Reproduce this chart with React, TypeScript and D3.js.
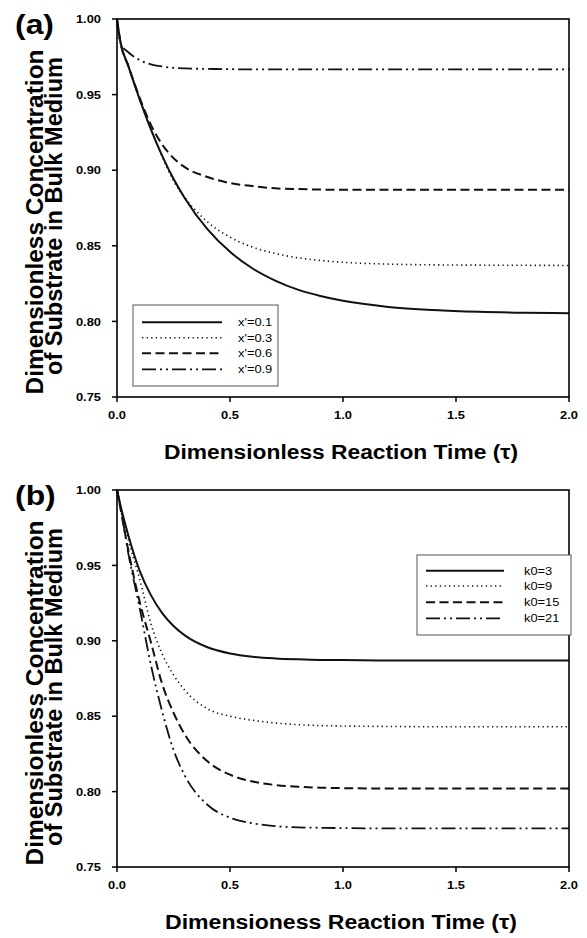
import React from "react";
import * as d3 from "d3";

const tau = [0, 0.015, 0.05, 0.1, 0.15, 0.2, 0.25, 0.3, 0.4, 0.5, 0.6, 0.7, 0.8, 0.9, 1.0, 1.2, 1.4, 1.6, 1.8, 2.0];

// panel (a): x' series
const aX01 = [1.0, 0.985, 0.969, 0.947, 0.927, 0.9095, 0.8943, 0.8815, 0.861, 0.846, 0.835, 0.827, 0.821, 0.8168, 0.8136, 0.8096, 0.8075, 0.8063, 0.8057, 0.8054];
const aX03 = [1.0, 0.985, 0.969, 0.947, 0.927, 0.909, 0.893, 0.882, 0.8659, 0.8557, 0.8491, 0.8449, 0.8421, 0.8403, 0.8391, 0.8379, 0.8374, 0.8372, 0.8371, 0.837];
const aX06 = [1.0, 0.985, 0.969, 0.948, 0.93, 0.917, 0.908, 0.902, 0.8955, 0.8915, 0.8895, 0.888, 0.8875, 0.8872, 0.887, 0.887, 0.887, 0.887, 0.887, 0.887];
const aX09 = [1.0, 0.984, 0.978, 0.9729, 0.97, 0.9686, 0.9677, 0.9673, 0.967, 0.9668, 0.9667, 0.9667, 0.9667, 0.9667, 0.9667, 0.9667, 0.9667, 0.9667, 0.9667, 0.9667];
const aLabels = ["x'=0.1", "x'=0.3", "x'=0.6", "x'=0.9"];

// panel (b): k0 series
const bK3 = [1.0, 0.99, 0.97, 0.9466, 0.9303, 0.9184, 0.9098, 0.9036, 0.8957, 0.8916, 0.8894, 0.8883, 0.8877, 0.8873, 0.8872, 0.887, 0.887, 0.887, 0.887, 0.887];
const bK9 = [1.0, 0.989, 0.967, 0.9411, 0.9115, 0.8912, 0.8774, 0.8672, 0.8549, 0.85, 0.8473, 0.8455, 0.8444, 0.8438, 0.8435, 0.8432, 0.843, 0.843, 0.843, 0.843];
const bK15 = [1.0, 0.988, 0.96, 0.926, 0.899, 0.8713, 0.8523, 0.8378, 0.8201, 0.8112, 0.8067, 0.8044, 0.8032, 0.8026, 0.8023, 0.802, 0.802, 0.802, 0.802, 0.802];
const bK21 = [1.0, 0.989, 0.958, 0.922, 0.884, 0.853, 0.8277, 0.8106, 0.7913, 0.7827, 0.779, 0.7771, 0.7763, 0.776, 0.7758, 0.7756, 0.7756, 0.7756, 0.7756, 0.7756];
const bLabels = ["k0=3", "k0=9", "k0=15", "k0=21"];

const xTicks = [0, 0.5, 1.0, 1.5, 2.0];
const yTicks = [0.75, 0.8, 0.85, 0.9, 0.95, 1.0];

const DASHES = ["none", "1.3,3.3", "9,4.5", "14,4,2,4,2,4"];
const WIDTHS = [2, 1.6, 2, 1.8];
const FONT = "'Liberation Sans', Arial, Helvetica, sans-serif";
const SX = 1.12;

function SText({ x, y, anchor = "start", size, weight = "normal", children, dy = "0" }: any) {
  return (
    <text
      transform={`translate(${x},${y}) scale(${SX},1)`}
      textAnchor={anchor}
      fontSize={size}
      fontWeight={weight}
      fontFamily={FONT}
      dy={dy}
      fill="#000"
    >
      {children}
    </text>
  );
}

function Panel({ top, bottom, series, labels, legend, letter, xTitle, xTitleLen, yOff }: any) {
  const x = d3.scaleLinear().domain([0, 2]).range([117, 569]);
  const y = d3.scaleLinear().domain([0.75, 1.0]).range([bottom, top]);
  const line = d3
    .line<number>()
    .x((_, i) => x(tau[i]))
    .y((d) => y(d))
    .curve(d3.curveMonotoneX);
  const [x0, x1] = x.range();
  return (
    <g>
      {series.map((s: number[], i: number) => (
        <path key={i} d={line(s) || ""} fill="none" stroke="#111" strokeWidth={WIDTHS[i]} strokeDasharray={DASHES[i]} />
      ))}
      <rect x={x0} y={top} width={x1 - x0} height={bottom - top} fill="none" stroke="#000" strokeWidth={1.6} />
      {yTicks.map((t) => (
        <g key={"y" + t}>
          <line x1={x0 - 5} x2={x0} y1={y(t)} y2={y(t)} stroke="#000" strokeWidth={1.5} />
          <SText x={x0 - 16} y={y(t)} anchor="end" size={11.5} weight="bold" dy="0.36em">
            {t.toFixed(2)}
          </SText>
        </g>
      ))}
      {xTicks.map((t) => (
        <g key={"x" + t}>
          <line x1={x(t)} x2={x(t)} y1={bottom} y2={bottom + 5} stroke="#000" strokeWidth={1.5} />
          <SText x={x(t)} y={bottom + 22} anchor="middle" size={11.5} weight="bold">
            {t.toFixed(1)}
          </SText>
        </g>
      ))}
      {/* legend */}
      <rect x={legend.x0} y={legend.y0} width={legend.x1 - legend.x0} height={legend.y1 - legend.y0} fill="#fff" stroke="#555" strokeWidth={1} />
      {labels.map((lab: string, i: number) => (
        <g key={lab}>
          <line x1={legend.lx0} x2={legend.lx1} y1={legend.rows[i]} y2={legend.rows[i]} stroke="#111" strokeWidth={WIDTHS[i]} strokeDasharray={DASHES[i]} />
          <SText x={legend.tx} y={legend.rows[i]} size={11.5} dy="0.36em">
            {lab}
          </SText>
        </g>
      ))}
      {/* titles */}
      <text
        x={341}
        y={bottom + 62}
        textAnchor="middle"
        fontSize={20}
        fontWeight="bold"
        fontFamily={FONT}
        textLength={xTitleLen}
        lengthAdjust="spacingAndGlyphs"
      >
        {xTitle}
      </text>
      <text
        transform={`translate(43,${222 + yOff}) rotate(-90)`}
        textAnchor="middle"
        fontSize={23.5}
        fontWeight="bold"
        fontFamily={FONT}
        textLength={345}
        lengthAdjust="spacingAndGlyphs"
      >
        Dimensionless Concentration
      </text>
      <text
        transform={`translate(62,${216 + yOff}) rotate(-90)`}
        textAnchor="middle"
        fontSize={23.5}
        fontWeight="bold"
        fontFamily={FONT}
        textLength={318}
        lengthAdjust="spacingAndGlyphs"
      >
        of Substrate in Bulk Medium
      </text>
      <SText x={15} y={34 + yOff} size={28.5} weight="bold">
        {letter}
      </SText>
    </g>
  );
}

export default function App() {
  return (
    <svg width={587} height={938} style={{ position: "absolute", left: 0, top: 0, background: "#fff" }}>
      <rect x={0} y={0} width={587} height={938} fill="#fff" />
      <Panel
        top={19}
        bottom={397}
        series={[aX01, aX03, aX06, aX09]}
        labels={aLabels}
        legend={{ x0: 133, x1: 278, y0: 305, y1: 386, lx0: 142, lx1: 222, tx: 238, rows: [322.3, 337.7, 353.3, 369.3] }}
        letter="(a)"
        xTitle="Dimensionless Reaction Time (τ)"
        xTitleLen={354}
        yOff={0}
      />
      <Panel
        top={490}
        bottom={867}
        series={[bK3, bK9, bK15, bK21]}
        labels={bLabels}
        legend={{ x0: 417, x1: 571, y0: 555, y1: 635, lx0: 426, lx1: 504, tx: 524, rows: [570.7, 586, 602.3, 618.3] }}
        letter="(b)"
        xTitle="Dimensioness Reaction Time (τ)"
        xTitleLen={352}
        yOff={471}
      />
    </svg>
  );
}
